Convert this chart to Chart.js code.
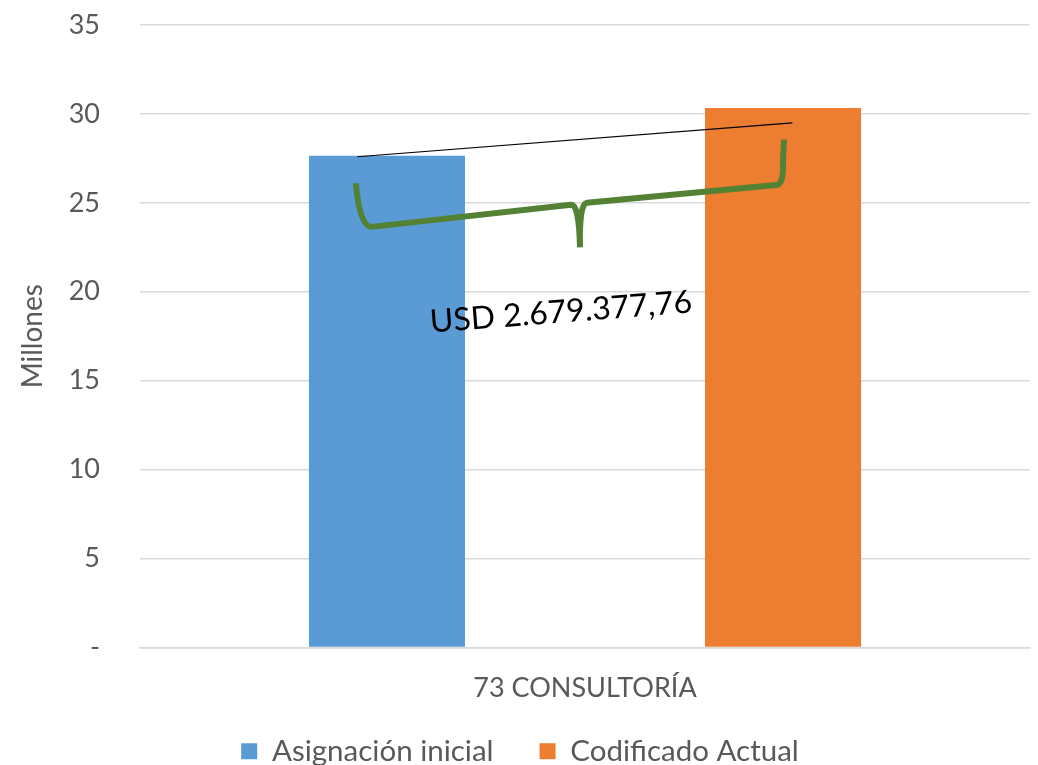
<!DOCTYPE html>
<html>
<head>
<meta charset="utf-8">
<script src="https://cdn.jsdelivr.net/npm/chart.js@4"></script>
<style>
  html, body { margin: 0; padding: 0; background: #ffffff; }
  #wrap { width: 1038px; height: 765px; }
</style>
</head>
<body>
<div id="wrap"><canvas id="chart" width="1038" height="765"></canvas></div>
<script>
// data (millions USD)
const categories = ['73 CONSULTORÍA'];
const seriesNames = ['Asignación inicial', 'Codificado Actual'];
const asignacionInicial = [27.65];
const codificadoActual = [30.33];
const yTicks = [0, 5, 10, 15, 20, 25, 30, 35];
const diffLabel = 'USD 2.679.377,76';

const FONT = 'Lato, "Open Sans", sans-serif';
const TEXT = '#595959';

// brace + line drawn over the bars, anchored to bar geometry and y scale
const bracePlugin = {
    id: 'brace',
    afterDatasetsDraw(chart) {
        const ctx = chart.ctx;
        const y = chart.scales.y;
        const b0 = chart.getDatasetMeta(0).data[0];
        const b1 = chart.getDatasetMeta(1).data[0];
        const mid = (b0.x + b1.x) / 2;

        ctx.save();
        // thin black line
        ctx.strokeStyle = '#000000';
        ctx.lineWidth = 1.2;
        ctx.beginPath();
        ctx.moveTo(b0.x - b0.width * 0.19, y.getPixelForValue(asignacionInicial[0]) + 1);
        ctx.lineTo(b1.x + b1.width * 0.06, y.getPixelForValue(29.5));
        ctx.stroke();

        // green curly brace
        ctx.strokeStyle = '#548235';
        ctx.lineWidth = 6;
        ctx.lineJoin = 'round';
        ctx.lineCap = 'butt';
        const lx = b0.x - b0.width * 0.2, ly = y.getPixelForValue(26.1);
        const cx = b0.x - b0.width * 0.1, cy = y.getPixelForValue(23.65);
        const mx = mid - 6, my = y.getPixelForValue(24.95);
        const tx = mid - 5, ty = y.getPixelForValue(22.5);
        const rx = b1.x - 1, ry = y.getPixelForValue(26.0);
        const ex = b1.x + 1, ey = y.getPixelForValue(28.55);
        ctx.beginPath();
        ctx.moveTo(lx, ly);
        ctx.quadraticCurveTo(lx + 4, cy, cx, cy);
        ctx.lineTo(mx - 8, my + 1);
        ctx.quadraticCurveTo(mx, my, tx, ty);
        ctx.moveTo(tx, ty);
        ctx.quadraticCurveTo(mx, my, mx + 8, my - 1);
        ctx.lineTo(rx - 6, ry);
        ctx.quadraticCurveTo(rx + 2, ry, rx + 1, ey + 20);
        ctx.lineTo(ex, ey);
        ctx.stroke();

        // rotated amount text
        ctx.translate(mid - 24, y.getPixelForValue(18.85));
        ctx.rotate(-4.4 * Math.PI / 180);
        ctx.fillStyle = '#000000';
        ctx.font = '32px ' + FONT;
        ctx.textAlign = 'center';
        ctx.textBaseline = 'middle';
        ctx.fillText(diffLabel, 0, 0);
        ctx.restore();
    }
};

// legend items need wide horizontal gaps but sit closer to the axis label
const legendShift = {
    id: 'legendShift',
    afterLayout(chart) {
        chart.legend.top -= 13;
        chart.legend.bottom -= 13;
    }
};

new Chart(document.getElementById('chart'), {
    type: 'bar',
    data: {
        labels: categories,
        datasets: [
            { label: seriesNames[0], data: asignacionInicial, backgroundColor: '#5B9BD5', categoryPercentage: 0.89, barPercentage: 0.394 },
            { label: seriesNames[1], data: codificadoActual, backgroundColor: '#ED7D31', categoryPercentage: 0.89, barPercentage: 0.394 }
        ]
    },
    options: {
        responsive: false,
        animation: false,
        layout: { padding: { left: 10, right: 8, top: 0, bottom: -24 } },
        plugins: {
            tooltip: { enabled: false },
            legend: {
                position: 'bottom',
                labels: {
                    boxWidth: 16, boxHeight: 16, padding: 46,
                    color: TEXT, font: { family: FONT, size: 29.5 }
                }
            }
        },
        scales: {
            x: {
                afterFit: s => { s.height = 56; },
                grid: { display: false },
                border: { display: true, color: '#d9d9d9', width: 1.5 },
                ticks: { color: TEXT, font: { family: FONT, size: 27 }, padding: 17 }
            },
            y: {
                min: 0, max: 35,
                afterBuildTicks: s => { s.ticks = yTicks.map(v => ({ value: v })); },
                afterFit: s => { s.width = 130; s.paddingTop = 25; s.paddingBottom = 0; },
                grid: { color: '#d9d9d9', lineWidth: 1.5, drawTicks: false },
                border: { display: false },
                ticks: {
                    color: TEXT, font: { family: FONT, size: 27 }, padding: 40,
                    callback: v => v === 0 ? '-' : v
                },
                title: { display: true, text: 'Millones', color: TEXT, font: { family: FONT, size: 28 }, padding: { top: 6, bottom: 0 } }
            }
        }
    },
    plugins: [bracePlugin, legendShift]
});
</script>
</body>
</html>
